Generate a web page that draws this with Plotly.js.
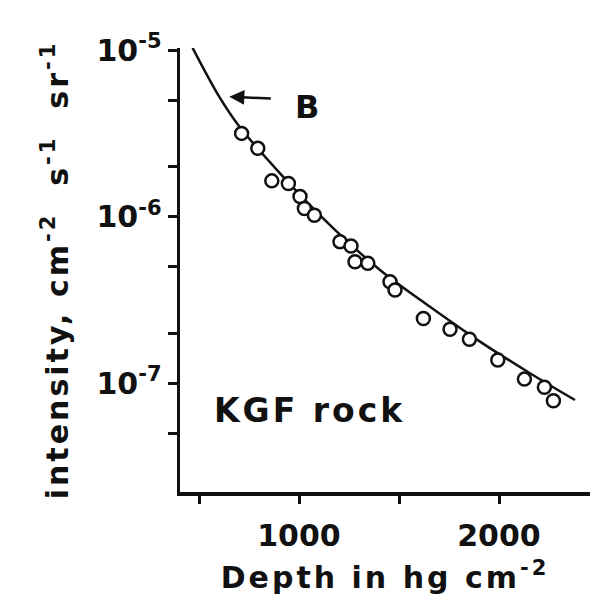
<!DOCTYPE html>
<html>
<head>
<meta charset="utf-8">
<script src="https://cdn.plot.ly/plotly-3.0.1.min.js"></script>
<style>
  html, body { margin: 0; padding: 0; background: #fff; }
  #chart { width: 595px; height: 603px; }
  .xtitle, .ytitle, .annotation-text { letter-spacing: 3px; }
</style>
</head>
<body>
<div id="chart"></div>
<script>
// Measured data points (open circles)
const depthPoints = [713, 794, 864, 947, 1005, 1027, 1077, 1205, 1260, 1280, 1344, 1455, 1480, 1622, 1755, 1852, 1994, 2127, 2227, 2272];
const intensityPoints = [3.16e-6, 2.57e-6, 1.64e-6, 1.58e-6, 1.32e-6, 1.12e-6, 1.02e-6, 7.08e-7, 6.67e-7, 5.37e-7, 5.25e-7, 4.07e-7, 3.63e-7, 2.45e-7, 2.11e-7, 1.84e-7, 1.38e-7, 1.06e-7, 9.47e-8, 7.87e-8];

// Curve B
const depthCurve = [468, 601, 696, 905, 1172, 1405, 1655, 1905, 2155, 2380];
const intensityCurve = [1.03e-5, 5.25e-6, 3.55e-6, 1.82e-6, 8.51e-7, 4.79e-7, 2.88e-7, 1.78e-7, 1.15e-7, 7.94e-8];

// Ticks
const xTickVals = [1000, 2000];
const xTickText = ["1000", "2000"];
const xMinorVals = [500, 1500];
const yTickVals = [1e-5, 1e-6, 1e-7];
const yTickText = ["10<sup>-5</sup>", "10<sup>-6</sup>", "10<sup>-7</sup>"];
const yMinorVals = [5e-6, 2e-6, 5e-7, 2e-7, 5e-8];

const ink = "#111";
const fam = "DejaVu Sans";

const traces = [
  {
    x: depthCurve, y: intensityCurve, type: "scatter", mode: "lines",
    line: { color: ink, width: 2.5, shape: "spline", smoothing: 1 },
    hoverinfo: "skip", showlegend: false
  },
  {
    x: depthPoints, y: intensityPoints, type: "scatter", mode: "markers",
    marker: { symbol: "circle", size: 13, color: "#fff", line: { color: ink, width: 2.5 } },
    showlegend: false
  }
];

const layout = {
  width: 595, height: 603,
  margin: { l: 180, r: 5, t: 48, b: 111, pad: 0 },
  paper_bgcolor: "#fff", plot_bgcolor: "#fff",
  showlegend: false,
  font: { family: fam, color: ink, weight: "bold" },
  xaxis: {
    range: [405, 2455],
    showline: true, linecolor: ink, linewidth: 3.5,
    showgrid: false, zeroline: false,
    ticks: "outside", ticklen: 8, tickwidth: 3, tickcolor: ink,
    tickmode: "array", tickvals: xTickVals, ticktext: xTickText,
    ticklabelstandoff: 6,
    minor: { tickmode: "array", tickvals: xMinorVals, ticks: "outside", ticklen: 8, tickwidth: 3, tickcolor: ink, showgrid: false },
    tickfont: { family: fam, size: 30, color: ink, weight: "bold" },
    title: { text: "Depth in hg cm<sup>-2</sup>", font: { family: fam, size: 30, color: ink, weight: "bold" }, standoff: 16 }
  },
  yaxis: {
    type: "log",
    range: [-7.652, -4.988],
    showline: true, linecolor: ink, linewidth: 3.5,
    showgrid: false, zeroline: false,
    ticks: "outside", ticklen: 9, tickwidth: 3, tickcolor: ink,
    tickmode: "array", tickvals: yTickVals, ticktext: yTickText,
    minor: { tickmode: "array", tickvals: yMinorVals, ticks: "outside", ticklen: 9, tickwidth: 3, tickcolor: ink, showgrid: false },
    tickfont: { family: fam, size: 30, color: ink, weight: "bold" },
    title: { text: "intensity, cm<sup>-2</sup>  s<sup>-1</sup>  sr<sup>-1</sup>", font: { family: fam, size: 30, color: ink, weight: "bold" }, standoff: 20 }
  },
  annotations: [
    {
      x: 651.5, y: -5.28, xref: "x", yref: "y",
      text: "", showarrow: true, ax: 43, ay: 2,
      arrowhead: 2, arrowsize: 1.2, arrowwidth: 2.5, arrowcolor: ink
    },
    {
      x: 1045, y: -5.342, xref: "x", yref: "y",
      text: "B", showarrow: false,
      font: { family: fam, size: 32, color: ink, weight: "bold" }
    },
    {
      x: 1050, y: -7.16, xref: "x", yref: "y",
      text: "KGF rock", showarrow: false,
      font: { family: fam, size: 33, color: ink, weight: "bold" }
    }
  ]
};

Plotly.newPlot("chart", traces, layout, { displayModeBar: false, staticPlot: true });
</script>
</body>
</html>
